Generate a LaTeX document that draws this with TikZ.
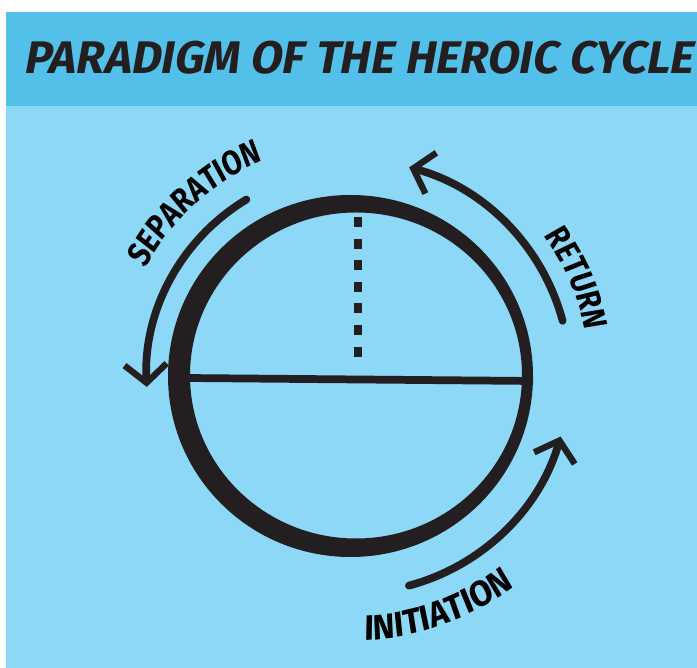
\documentclass[tikz,border=0pt]{standalone}
\usepackage{fontspec}
\newfontfamily\comicfont[FakeSlant=0.18]{Fira Sans}
\newfontfamily\labelfont[FakeSlant=0.08, FakeStretch=0.85]{Fira Sans}
\newfontfamily\widelabelfont[FakeSlant=0.08, FakeStretch=0.95]{Fira Sans}
\definecolor{hdrblue}{RGB}{82,192,232}
\definecolor{bgblue}{RGB}{140,216,246}
\definecolor{ink}{RGB}{35,31,32}
\usetikzlibrary{arrows.meta,decorations.text}
\newcommand{\lblfmt}{\labelfont\bfseries\fontsize{24}{24}\selectfont}
\newcommand{\widelblfmt}{\widelabelfont\bfseries\fontsize{25}{25}\selectfont}

\begin{document}
\begin{tikzpicture}[x=0.025cm, y=0.025cm,
    inkline/.style={draw=ink, line width=5pt, line cap=round},
    cyclearrow/.style={inkline, line width=5.5pt, -{Straight Barb[length=13pt, width=30pt, line width=4.5pt]}},
    arclabel/.style={decorate, decoration={text along path, text align=center, text={|\lblfmt|#1}}},
    widearclabel/.style={decorate, decoration={text along path, text align=center, text={|\widelblfmt|#1}}}
  ]
  % page and header band
  \useasboundingbox (0,0) rectangle (697,668);
  \fill[white] (0,0) rectangle (697,668);
  \fill[bgblue] (6,0) rectangle (697,656);
  \fill[hdrblue] (6,562) rectangle (697,656);
  \node[text=ink, font=\comicfont\bfseries\fontsize{32.5}{32.5}\selectfont] (title) at (358,610) {PARADIGM OF THE HEROIC CYCLE};

  % the cycle
  \coordinate (C) at (353,291);
  \fill[ink, even odd rule] (350.5,292) ellipse [x radius=182.5, y radius=181]
                            (356,292.5) ellipse [x radius=166, y radius=163];
  \coordinate (west) at (186,290);
  \coordinate (east) at (533,287);
  \draw[inkline, line width=5.5pt, line cap=butt] (west) -- (east);
  \coordinate (dtop) at (358,451);
  \coordinate (dbot) at (358,306);
  \draw[draw=ink, line width=6pt, dash pattern=on 0.25cm off 0.29cm] (dtop) -- (dbot);

  % arrows round the cycle
  \draw[cyclearrow] ([shift={(121:207)}]C) arc[start angle=121, end angle=183, radius=206];
  \draw[cyclearrow] ([shift={(15:217)}]C) arc[start angle=15, end angle=75, radius=217];
  \draw[cyclearrow] ([shift={(-75:216)}]C) arc[start angle=-75, end angle=-16, radius=216];

  % labels
  \path[arclabel=SEPARATION] ([shift={(160:234)}]C) arc[start angle=160, end angle=105, radius=234];
  \path[arclabel=RETURN] ([shift={(45:237)}]C) arc[start angle=45, end angle=3, radius=237];
  \path[widearclabel=INITIATION] ([shift={(-100:264)}]C) arc[start angle=-100, end angle=-40, radius=264];
\end{tikzpicture}
\end{document}
